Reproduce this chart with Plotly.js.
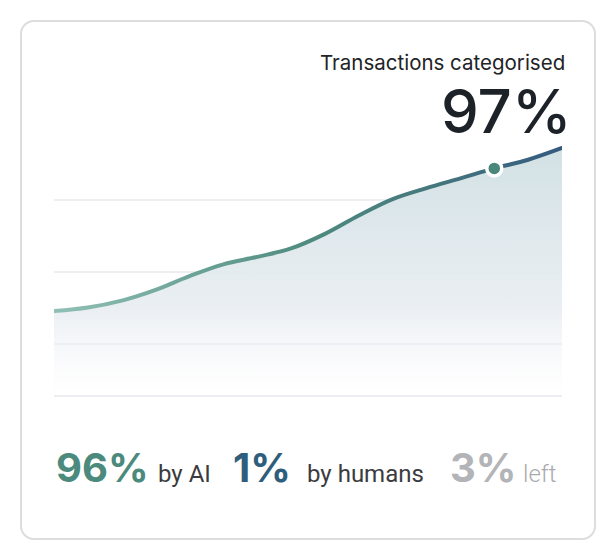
<!DOCTYPE html>
<html><head><meta charset="utf-8">
<script src="https://cdn.plot.ly/plotly-3.0.1.min.js"></script>
<style>
html,body{margin:0;padding:0;background:#ffffff;}
#card{position:absolute;left:20px;top:20px;width:576px;height:520px;box-sizing:border-box;border:2px solid #dddddd;border-radius:14px;background:#ffffff;}
#chart{position:absolute;left:0;top:0;width:616px;height:560px;}
.js-line{stroke-linecap:round;stroke-linejoin:round;}
</style></head><body>
<svg width="0" height="0" style="position:absolute">
  <defs>
    <linearGradient id="lineGrad" x1="0" y1="0" x2="1" y2="0">
      <stop offset="0" stop-color="#90c0b5"/>
      <stop offset="0.5" stop-color="#4f8b7f"/>
      <stop offset="0.75" stop-color="#45777e"/>
      <stop offset="1" stop-color="#355a7f"/>
    </linearGradient>
  </defs>
</svg>
<div id="card"></div><div id="chart"></div>
<script>
// ---- data ----
const periods = [1,2,3,4,5,6,7,8,9,10,11,12,13,14,15,16];
const categorisedPct = [33.2,34.6,37.3,41.5,46.9,51.5,54.4,57.7,63.4,70.6,77.0,81.3,85.1,89.0,92.4,97.0];
const highlightIndex = 13;
const gridValues = [0,20.3,48.5,76.7];
const headlineLabel = "Transactions categorised";
const headlineValue = "97%";
const breakdownValues = ["96%","1%","3%"];
const breakdownLabels = ["by AI","by humans","left"];

const n = periods.length;
const traces = [
  // gradient area fill
  {
    x: periods, y: categorisedPct, type:'scatter', mode:'lines',
    line:{width:0, shape:'spline'}, fill:'tozeroy', hoverinfo:'skip',
    fillgradient:{type:'vertical', start:0, stop:categorisedPct[n-1],
      colorscale:[[0,'rgba(246,246,250,0)'],[0.35,'rgba(232,237,242,0.9)'],[1,'rgba(210,225,228,1)']]}
  },
  // line (stroke replaced by a horizontal gradient after render)
  {
    x: periods, y: categorisedPct, type:'scatter', mode:'lines', hoverinfo:'skip',
    line:{color:'#4f8b7f', width:4, shape:'spline'}
  },
  // highlighted point
  {
    x:[periods[highlightIndex]], y:[categorisedPct[highlightIndex]],
    type:'scatter', mode:'markers', hoverinfo:'skip',
    marker:{size:15, color:'#4a8679', line:{color:'#ffffff', width:3.5}}
  }
];

// plot area: x 54..562, y 130..401 (value 0 at y=396)
const L=54, W=508, T=130, H=271;
const px = v => (v-L)/W;
const py = v => (T+H-v)/H;

const annotations = [
  {text:headlineLabel, x:px(567), y:py(62.5), xanchor:'right', yanchor:'middle',
   font:{family:'Inter', size:20.5, color:'#222326', weight:400}},
  {text:headlineValue, x:px(574), y:py(111), xanchor:'right', yanchor:'middle',
   font:{family:'Inter', size:60, color:'#1c2227', weight:500}},
  {text:breakdownValues[0], x:px(54), y:py(467), xanchor:'left', yanchor:'middle',
   font:{family:'Inter', size:40, color:'#4b8a7d', weight:700}},
  {text:breakdownLabels[0], x:px(156), y:py(474), xanchor:'left', yanchor:'middle',
   font:{family:'Roboto', size:24, color:'#3b3b40', weight:400}},
  {text:breakdownValues[1], x:px(231), y:py(467), xanchor:'left', yanchor:'middle',
   font:{family:'Inter', size:40, color:'#2f5d7c', weight:700}},
  {text:breakdownLabels[1], x:px(305), y:py(474), xanchor:'left', yanchor:'middle',
   font:{family:'Roboto', size:24, color:'#3b3b40', weight:400}},
  {text:breakdownValues[2], x:px(448), y:py(467), xanchor:'left', yanchor:'middle',
   font:{family:'Inter', size:40, color:'#b3b4b8', weight:700}},
  {text:breakdownLabels[2], x:px(521), y:py(474), xanchor:'left', yanchor:'middle',
   font:{family:'Roboto', size:24, color:'#a9aaae', weight:300}}
];
annotations.forEach(a=>{a.xref='paper';a.yref='paper';a.showarrow=false;});

const layout = {
  width:616, height:560,
  margin:{l:L, r:616-L-W, t:T, b:560-T-H, pad:0},
  paper_bgcolor:'rgba(0,0,0,0)', plot_bgcolor:'rgba(0,0,0,0)',
  showlegend:false, hovermode:false,
  xaxis:{range:[periods[0], periods[n-1]], showgrid:false, zeroline:false,
    showticklabels:false, ticks:'', showline:false, fixedrange:true},
  yaxis:{range:[-1.955, 104.03], tickmode:'array', tickvals:gridValues, showticklabels:false,
    ticks:'', showgrid:true, gridcolor:'#eceef2', gridwidth:2, zeroline:false,
    showline:false, fixedrange:true},
  annotations: annotations
};

Plotly.newPlot('chart', traces, layout, {displayModeBar:false, staticPlot:true}).then(gd=>{
  const tr = gd.querySelectorAll('.scatterlayer .trace');
  const path = tr[1] && tr[1].querySelector('path.js-line');
  if(path) path.style.stroke = 'url(#lineGrad)';
});
</script>
</body></html>
